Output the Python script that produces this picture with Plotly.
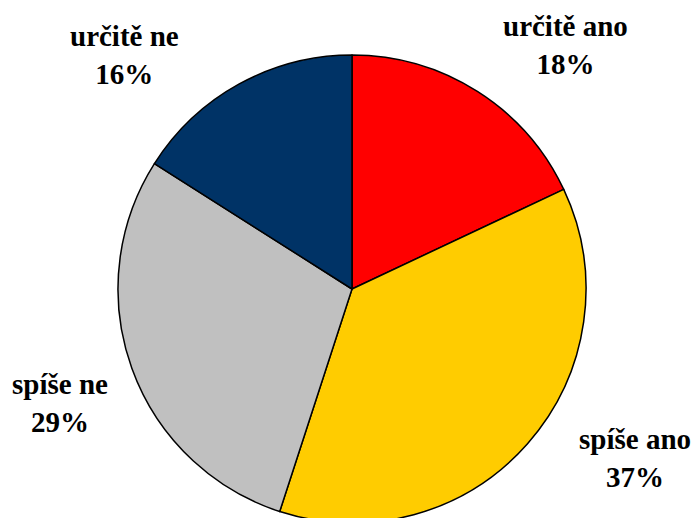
import plotly.graph_objects as go

categories = ["určitě ano", "spíše ano", "spíše ne", "určitě ne"]
values = [18, 37, 29, 16]
colors = ["#FF0000", "#FFCC00", "#C0C0C0", "#003366"]

W, H = 695, 530
cx, cy, R = 352, 289, 234

# label anchor positions (pixels from top-left)
label_px = [(565, 45), (635, 458), (60, 403), (124, 55)]

fig = go.Figure(go.Pie(
    labels=categories, values=values, sort=False, direction="clockwise", rotation=0,
    marker=dict(colors=colors, line=dict(color="black", width=1.5)),
    textinfo="none", hoverinfo="label+percent", showlegend=False,
    domain=dict(x=[(cx - R) / W, (cx + R) / W], y=[1 - (cy + R) / H, 1 - (cy - R) / H]),
))

total = sum(values)
for cat, val, (px, py) in zip(categories, values, label_px):
    fig.add_annotation(
        x=px / W, y=1 - py / H, xref="paper", yref="paper",
        text=f"<b>{cat}</b><br><b>{round(val / total * 100)}%</b>", showarrow=False,
        font=dict(family="Liberation Serif", size=29, color="black"),
        align="center", xanchor="center", yanchor="middle",
    )

fig.update_layout(width=W, height=H, margin=dict(l=0, r=0, t=0, b=0),
                  paper_bgcolor="white", plot_bgcolor="white")

fig.write_html("out.html", config={"displayModeBar": False}, post_script=(
    "document.body.style.margin='0';document.body.style.overflow='hidden';"
    "document.documentElement.style.overflow='hidden';"
))
